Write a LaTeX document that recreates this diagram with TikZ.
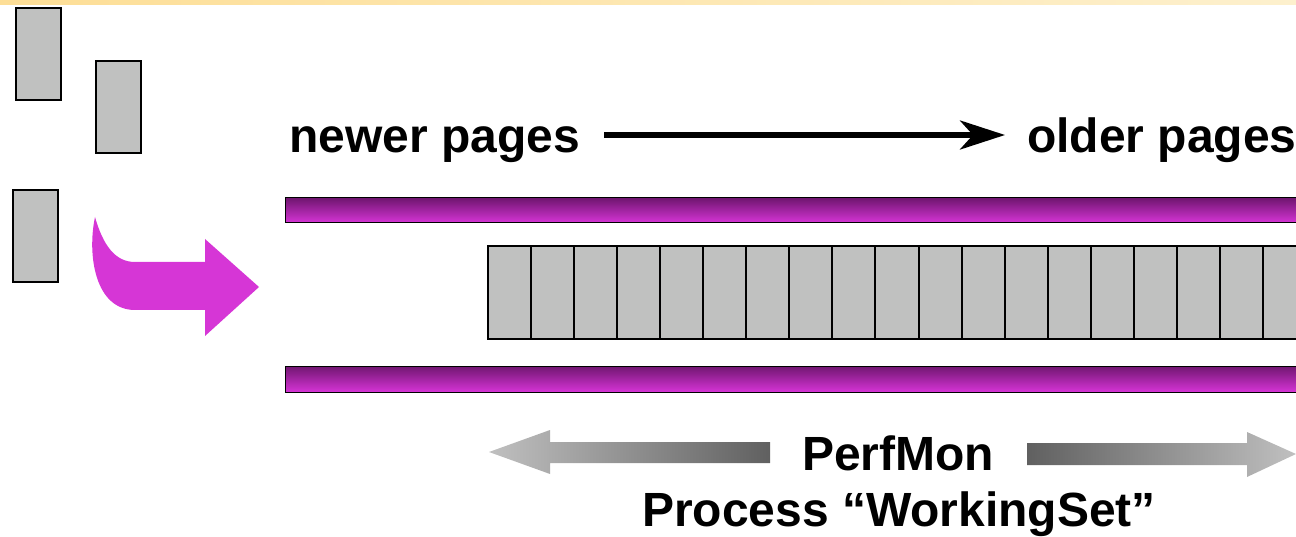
\documentclass[tikz,border=0pt]{standalone}
\usepackage{fontspec}
\setmainfont{Liberation Sans}
\usetikzlibrary{arrows.meta}
\definecolor{pagegray}{RGB}{192,193,192}
\definecolor{pinkarrow}{RGB}{214,54,214}
\definecolor{bardark}{RGB}{112,22,112}
\definecolor{barlight}{RGB}{214,52,214}
\definecolor{arrlight}{RGB}{192,192,192}
\definecolor{arrdark}{RGB}{96,96,96}
\definecolor{topyellow}{RGB}{253,222,150}
\definecolor{topyellowlight}{RGB}{253,240,205}
\tikzset{
  pagebox/.style={draw=black, line width=2pt, fill=pagegray, minimum width=45pt, minimum height=92pt, inner sep=0pt, anchor=north west},
  cellbox/.style={draw=black, line width=2pt, fill=pagegray, minimum width=43.05pt, minimum height=93pt, inner sep=0pt, anchor=north west},
  bar/.style={draw=black, line width=1pt, top color=bardark, bottom color=barlight},
  bigtext/.style={font=\fontsize{48}{54}\selectfont\bfseries, inner sep=0pt},
}
\begin{document}
\begin{tikzpicture}[x=1pt, y=-1pt]
\useasboundingbox (0,0) rectangle (1296,537);
\clip (0,0) rectangle (1296,537);
% top band
\shade[left color=topyellow, right color=topyellowlight] (0,0) rectangle (1296,5);
% loose pages
\node[pagebox] (p1) at (15,7) {};
\node[pagebox] (p2) at (95,60) {};
\node[pagebox] (p3) at (12,189) {};
% curved pink arrow
\fill[pinkarrow] (95,217) .. controls (103,245) and (115,262) .. (135,262)
  -- (205,262) -- (205,239) -- (259,287) -- (205,336) -- (205,310) -- (135,310)
  .. controls (95,310) and (87,255) .. (95,217) -- cycle;
% labels and arrow
\node[bigtext, anchor=base west] (newer) at (289,153) {newer pages};
\node[bigtext, anchor=base west] (older) at (1027,153) {older pages};
\coordinate (a1) at (604,135);
\coordinate (a2) at (1005,135);
\draw[line width=5.5pt, -{Stealth[length=45pt, width=29pt, inset=13pt]}] (a1) -- (a2);
% bars
\path[bar] (285,198) rectangle (1310,223);
\path[bar] (285,366) rectangle (1310,392);
% cells
\foreach \i in {0,...,19} {
  \node[cellbox] (c\i) at (487+\i*43.05,245) {};
}
% PerfMon labels
\node[bigtext, anchor=base] (perf) at (898,470) {PerfMon};
\node[bigtext, anchor=base] (proc) at (899,526) {Process “WorkingSet”};
% gray arrows
\shade[left color=arrlight, right color=arrdark] (489,452) -- (550,430) -- (550,442) -- (770,442) -- (770,463) -- (550,463) -- (550,474) -- cycle;
\shade[left color=arrdark, right color=arrlight] (1027,443) -- (1247,443) -- (1247,432) -- (1296,454) -- (1247,477) -- (1247,465) -- (1027,465) -- cycle;
\end{tikzpicture}
\end{document}
